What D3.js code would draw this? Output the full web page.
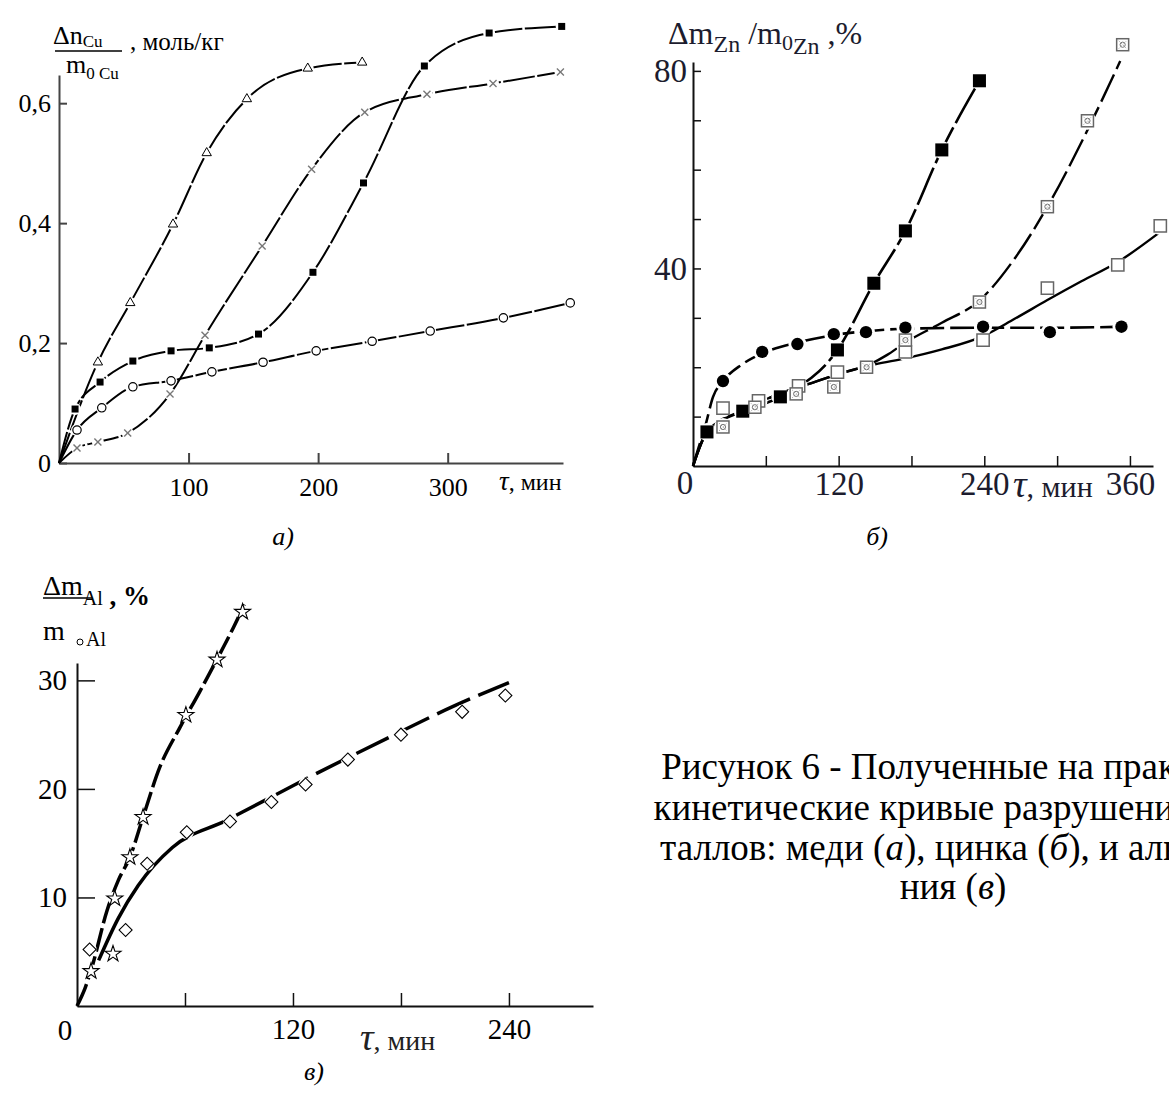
<!DOCTYPE html>
<html>
<head>
<meta charset="utf-8">
<script src="https://cdn.jsdelivr.net/npm/d3@7"></script>
<style>
body { margin: 0; background: #fff; }
svg { display: block; }
text { font-family: "Liberation Serif", "Times New Roman", serif; }
</style>
</head>
<body>
<div id="chart"></div>
<script>
// а) медь, [мин, моль/кг]
var cuTriangle = [[30,0.168],[55,0.267],[88,0.398],[114,0.517],[145,0.607],[192,0.658],[234,0.668]];
var cuSquare = [[12.4,0.09],[31.7,0.135],[57,0.17],[86.5,0.187],[116,0.192],[154,0.215],[196,0.318],[235,0.467],[282,0.662],[332,0.717],[388,0.728]];
var cuCircle = [[13.9,0.055],[33,0.092],[57,0.127],[86.5,0.137],[118,0.152],[157.5,0.168],[198.5,0.187],[241.7,0.203],[286.5,0.22],[343,0.242],[394.6,0.267]];
var cuCross = [[13.9,0.025],[30,0.035],[53,0.05],[85.7,0.115],[112.7,0.213],[156.8,0.362],[195,0.49],[236,0.585],[284,0.615],[335,0.633],[387,0.652]];
var cuXTicks = [100, 200, 300];
var cuYTicks = [0, 0.2, 0.4, 0.6];

// б) цинк, [мин, %]
var znSquare = [[11.5,6.9],[41,11.1],[72,14],[119,23.5],[149,37],[175,47.6],[205,64],[236,78]];
var znCircle = [[24.7,17.2],[57,23.1],[86,24.7],[116,26.7],[142.5,27.1],[175,28],[239,28.2],[294,27.1],[353,28.2]];
var znOpen = [[24.7,11.7],[54,13.2],[87,16.2],[119,19],[175,23.1],[239,25.5],[292,36],[350,40.7],[385,48.6]];
var znCrossed = [[24.7,7.9],[51,11.9],[85,14.6],[116,16],[143,20],[175,25.5],[236,33.2],[292,52.5],[325,69.9],[354,85.3]];
var znCircleFit = [[0,0],[5.8,4.7],[9.9,7.9],[16.5,14],[24.7,17.2],[40,20.5],[57,22.8],[86,25],[116,26.5],[143,27.3],[175,27.8],[239,28],[300,28],[353,28.2]];
var znOpenFit = [[0,0],[12,7],[41,11.3],[70,14.5],[100,17],[125,19],[150,20.6],[175,21.8],[205,23.6],[239,26.3],[265,29.8],[292,33.6],[320,37.4],[350,41.3],[385,47.4]];
var znCrossedFit = [[0,0],[12,7],[41,11.3],[70,14.5],[100,17],[125,19],[143,20.3],[160,22.5],[175,25],[205,29],[236,33.5],[265,42],[292,52.5],[325,68],[352,82]];
var znXTicks = [60, 120, 180, 240, 300, 360];
var znXLabels = [120, 240, 360];
var znYTicks = [10, 20, 30, 40, 50, 60, 70, 80];
var znYLabels = [40, 80];

// в) алюминий, [мин, %]
var alStar = [[7.8,3.2],[20,4.8],[21,9.9],[29.4,13.7],[36.7,17.4],[60.5,26.8],[77.8,31.9],[92,36.3]];
var alDiamond = [[7,5.2],[27,7],[39,13.1],[61,16],[85,17],[108,18.8],[127,20.4],[150.5,22.7],[180,25],[214,27.1],[238,28.6]];
var alStarFit = [[0,0],[4.6,1.7],[8,3.4],[16.7,8.8],[23,11.6],[29.4,13.7],[36.7,17.4],[46,22],[57,25.6],[68,28.9],[78,32],[87,34.9],[93,37]];
var alDiamondFit = [[12,4.2],[23,8.1],[34,11.1],[53,14.6],[83,17.1],[134,21.5],[174,24.8],[209,27.6],[240,29.8]];
var alXTicks = [60, 120, 180, 240];
var alXLabels = [120, 240];
var alYTicks = [10, 20, 30];

var captionLines = [
  [["Рисунок 6 - Полученные на практике", false]],
  [["кинетические кривые разрушения ме-", false]],
  [["таллов: меди (", false], ["а", true], ["), цинка (", false], ["б", true], ["), и алюми-", false]],
  [["ния (", false], ["в", true], [")", false]]
];

var svg = d3.select("#chart").append("svg")
   .attr("width", 1169)
   .attr("height", 1095);

function curve(g, x, y, pts, dash, w) {
   g.append("path")
      .datum(pts)
      .attr("fill", "none")
      .attr("stroke", "#000")
      .attr("stroke-width", w)
      .attr("stroke-dasharray", dash)
      .attr("d", d3.line()
         .x(function(d) { return x(d[0]); })
         .y(function(d) { return y(d[1]); })
         .curve(d3.curveMonotoneX));
}

function halos(g, x, y, pts, r) {
   g.selectAll(null).data(pts).enter().append("circle")
      .attr("cx", function(d) { return x(d[0]); })
      .attr("cy", function(d) { return y(d[1]); })
      .attr("r", r)
      .attr("fill", "#fff");
}

function marks(g, x, y, pts, type, size, fill, stroke, sw, rot) {
   g.selectAll(null).data(pts).enter().append("path")
      .attr("transform", function(d) {
         return "translate(" + x(d[0]) + "," + y(d[1]) + ")" + (rot ? " rotate(" + rot + ")" : "");
      })
      .attr("d", d3.symbol().type(type).size(size))
      .attr("fill", fill)
      .attr("stroke", stroke)
      .attr("stroke-width", sw);
}

function crosses(g, x, y, pts, s, color) {
   var c = g.selectAll(null).data(pts).enter().append("g")
      .attr("transform", function(d) { return "translate(" + x(d[0]) + "," + y(d[1]) + ")"; })
      .attr("stroke", color)
      .attr("stroke-width", 1.4);
   c.append("line").attr("x1", -s).attr("y1", -s).attr("x2", s).attr("y2", s);
   c.append("line").attr("x1", -s).attr("y1", s).attr("x2", s).attr("y2", -s);
}

function crossedSquares(g, x, y, pts) {
   var c = g.selectAll(null).data(pts).enter().append("g")
      .attr("transform", function(d) { return "translate(" + x(d[0]) + "," + y(d[1]) + ")"; });
   c.append("rect").attr("x", -6).attr("y", -6).attr("width", 12).attr("height", 12)
      .attr("fill", "#fff").attr("stroke", "#666").attr("stroke-width", 1.5);
   c.append("line").attr("x1", -4).attr("y1", -4).attr("x2", 4).attr("y2", 4)
      .attr("stroke", "#999").attr("stroke-width", 0.8).attr("stroke-dasharray", "1.5,1.5");
   c.append("line").attr("x1", -4).attr("y1", 4).attr("x2", 4).attr("y2", -4)
      .attr("stroke", "#999").attr("stroke-width", 0.8).attr("stroke-dasharray", "1.5,1.5");
   c.append("circle").attr("r", 2.6).attr("fill", "none").attr("stroke", "#666").attr("stroke-width", 0.9);
}

function comma(d) {
   return d === 0 ? "0" : d3.format(".1f")(d).replace(".", ",");
}

// ---------- а) ----------
var xa = d3.scaleLinear().domain([0, 389]).range([59, 563]);
var ya = d3.scaleLinear().domain([0, 0.647]).range([463, 75]);
var ga = svg.append("g");

ga.append("g")
   .attr("transform", "translate(0,463)")
   .attr("color", "#444")
   .call(d3.axisBottom(xa).tickValues(cuXTicks).tickSizeInner(-10).tickSizeOuter(0))
   .call(function(g) {
      g.select(".domain").attr("stroke-width", 2);
      g.selectAll("line").attr("stroke-width", 2);
      g.selectAll("text").attr("y", 33).attr("dy", null).attr("font-size", 26).attr("fill", "#000");
   });
ga.append("g")
   .attr("transform", "translate(59,0)")
   .attr("color", "#444")
   .call(d3.axisLeft(ya).tickValues(cuYTicks).tickFormat(comma).tickSizeInner(-8).tickSizeOuter(0).tickPadding(8))
   .call(function(g) {
      g.select(".domain").attr("stroke-width", 2);
      g.selectAll("line").attr("stroke-width", 2);
      g.selectAll("text").attr("font-size", 26).attr("fill", "#000");
   });

[cuTriangle, cuSquare, cuCircle, cuCross].forEach(function(s) {
   curve(ga, xa, ya, [[0, 0]].concat(s), "32,2.5", 2);
});
[cuTriangle, cuSquare, cuCircle, cuCross].forEach(function(s) {
   halos(ga, xa, ya, s, 6);
});
marks(ga, xa, ya, cuTriangle, d3.symbolTriangle, 38, "#fff", "#000", 1);
marks(ga, xa, ya, cuSquare, d3.symbolSquare, 49, "#000", "none", 0);
marks(ga, xa, ya, cuCircle, d3.symbolCircle, 55, "#fff", "#000", 1.2);
crosses(ga, xa, ya, cuCross, 3.5, "#777");

var la = ga.append("text").attr("x", 53).attr("y", 44).attr("font-size", 26);
la.append("tspan").text("Δn");
la.append("tspan").attr("font-size", 17).attr("dy", 3).text("Cu");
ga.append("line").attr("x1", 55).attr("x2", 122).attr("y1", 51).attr("y2", 51)
   .attr("stroke", "#000").attr("stroke-width", 1.5);
var lb = ga.append("text").attr("x", 66).attr("y", 73).attr("font-size", 26);
lb.append("tspan").text("m");
lb.append("tspan").attr("font-size", 17).attr("dy", 6).text("0 Cu");
ga.append("text").attr("x", 130).attr("y", 50).attr("font-size", 25).text(", моль/кг");
var ta = ga.append("text").attr("x", 499).attr("y", 490).attr("font-size", 24);
ta.append("tspan").attr("font-style", "italic").attr("font-size", 27).text("τ");
ta.append("tspan").text(", мин");
ga.append("text").attr("x", 283).attr("y", 545).attr("font-size", 26)
   .attr("font-style", "italic").attr("text-anchor", "middle").text("а)");

// ---------- б) ----------
var xb = d3.scaleLinear().domain([0, 379]).range([693, 1153]);
var yb = d3.scaleLinear().domain([0, 81.8]).range([466, 62]);
var gb = svg.append("g");

gb.append("g")
   .attr("transform", "translate(0,466)")
   .attr("color", "#111")
   .call(d3.axisBottom(xb).tickValues(znXTicks).tickSizeInner(-10).tickSizeOuter(0)
      .tickFormat(function(d) { return znXLabels.indexOf(d) >= 0 ? d : ""; }))
   .call(function(g) {
      g.select(".domain").attr("stroke-width", 2);
      g.selectAll("line").attr("stroke-width", 1.5);
      g.selectAll("text").attr("y", 29).attr("dy", null).attr("font-size", 33).attr("fill", "#1c1c2e");
   });
gb.append("g")
   .attr("transform", "translate(693,0)")
   .attr("color", "#111")
   .call(d3.axisLeft(yb).tickValues(znYTicks).tickSizeInner(-8).tickSizeOuter(0).tickPadding(6)
      .tickFormat(function(d) { return znYLabels.indexOf(d) >= 0 ? d : ""; }))
   .call(function(g) {
      g.select(".domain").attr("stroke-width", 2);
      g.selectAll("line").attr("stroke-width", 1.5);
      g.selectAll("text").attr("font-size", 33).attr("fill", "#1c1c2e");
   });
gb.append("text").attr("x", 685).attr("y", 494).attr("font-size", 33)
   .attr("text-anchor", "middle").attr("fill", "#1c1c2e").text("0");

curve(gb, xb, yb, znCircleFit, "24,6", 2.6);
curve(gb, xb, yb, [[0, 0]].concat(znSquare), "40,5", 2.6);
curve(gb, xb, yb, znOpenFit, null, 2.4);
curve(gb, xb, yb, znCrossedFit, "30,6", 2.4);
[znSquare, znCircle, znOpen, znCrossed].forEach(function(s) {
   halos(gb, xb, yb, s, 9);
});
marks(gb, xb, yb, znSquare, d3.symbolSquare, 170, "#000", "none", 0);
marks(gb, xb, yb, znCircle, d3.symbolCircle, 120, "#000", "none", 0);
marks(gb, xb, yb, znOpen, d3.symbolSquare, 150, "#fff", "#666", 1.5);
crossedSquares(gb, xb, yb, znCrossed);

var lz = gb.append("text").attr("x", 668).attr("y", 44).attr("font-size", 32).attr("fill", "#1c1c2e");
lz.append("tspan").text("Δm");
lz.append("tspan").attr("font-size", 24).attr("dy", 8).text("Zn");
lz.append("tspan").attr("dy", -8).text(" /m");
lz.append("tspan").attr("font-size", 22).attr("dy", 6).text("0");
lz.append("tspan").attr("font-size", 24).attr("dy", 4).text("Zn");
lz.append("tspan").attr("dy", -10).text(" ,%");
var tb = gb.append("text").attr("x", 1013).attr("y", 497).attr("font-size", 30).attr("fill", "#1c1c2e");
tb.append("tspan").attr("font-style", "italic").attr("font-size", 38).text("τ");
tb.append("tspan").text(", мин");
gb.append("text").attr("x", 877).attr("y", 545).attr("font-size", 26)
   .attr("font-style", "italic").attr("text-anchor", "middle").text("б)");

// ---------- в) ----------
var xc = d3.scaleLinear().domain([0, 286.7]).range([77, 593]);
var yc = d3.scaleLinear().domain([0, 31.6]).range([1006, 663]);
var gc = svg.append("g");

gc.append("g")
   .attr("transform", "translate(0,1006)")
   .attr("color", "#111")
   .call(d3.axisBottom(xc).tickValues(alXTicks).tickSizeInner(-13).tickSizeOuter(0)
      .tickFormat(function(d) { return alXLabels.indexOf(d) >= 0 ? d : ""; }))
   .call(function(g) {
      g.select(".domain").attr("stroke-width", 2);
      g.selectAll("line").attr("stroke-width", 1.5);
      g.selectAll("text").attr("y", 33).attr("dy", null).attr("font-size", 29).attr("fill", "#000");
   });
gc.append("g")
   .attr("transform", "translate(77,0)")
   .attr("color", "#111")
   .call(d3.axisLeft(yc).tickValues(alYTicks).tickSizeInner(-18).tickSizeOuter(0).tickPadding(10))
   .call(function(g) {
      g.select(".domain").attr("stroke-width", 2);
      g.selectAll("line").attr("stroke-width", 1.5);
      g.selectAll("text").attr("font-size", 29).attr("fill", "#000");
   });
gc.append("text").attr("x", 65).attr("y", 1040).attr("font-size", 29)
   .attr("text-anchor", "middle").text("0");

curve(gc, xc, yc, alStarFit, "24,5", 3.5);
// нижняя часть сплошная, дальше штрихи
curve(gc, xc, yc, alDiamondFit, "200,8,36,9,36,9,36,9,36,9,36,9,36,9,36,9,36,9,36,9,36,9", 3.5);
halos(gc, xc, yc, alStar, 7);
halos(gc, xc, yc, alDiamond, 7);
marks(gc, xc, yc, alStar, d3.symbolStar, 80, "#fff", "#000", 1.1);
marks(gc, xc, yc, alDiamond, d3.symbolSquare, 85, "#fff", "#000", 1.1, 45);

var lc = gc.append("text").attr("x", 43).attr("y", 595).attr("font-size", 28);
lc.append("tspan").text("Δm");
lc.append("tspan").attr("font-size", 20).attr("dy", 10).text("Al");
lc.append("tspan").attr("font-size", 27).attr("font-weight", "bold").text(" , %");
gc.append("line").attr("x1", 43).attr("x2", 92).attr("y1", 598).attr("y2", 598)
   .attr("stroke", "#000").attr("stroke-width", 1.5);
gc.append("text").attr("x", 43).attr("y", 640).attr("font-size", 28).text("m");
gc.append("text").attr("x", 86).attr("y", 646).attr("font-size", 20).text("Al");
gc.append("circle").attr("cx", 80).attr("cy", 642).attr("r", 3)
   .attr("fill", "none").attr("stroke", "#000").attr("stroke-width", 1);
var tc = gc.append("text").attr("x", 360).attr("y", 1050).attr("font-size", 28).attr("fill", "#222");
tc.append("tspan").attr("font-style", "italic").attr("font-size", 38).text("τ");
tc.append("tspan").text(", мин");
gc.append("text").attr("x", 314).attr("y", 1080).attr("font-size", 26)
   .attr("font-style", "italic").attr("text-anchor", "middle").text("в)");

// ---------- подпись (центрирована, справа обрезана краем) ----------
var capY = [779, 820, 860, 899];
captionLines.forEach(function(line, i) {
   var t = svg.append("text").attr("x", 953).attr("y", capY[i])
      .attr("font-size", 37).attr("text-anchor", "middle");
   line.forEach(function(part) {
      t.append("tspan").attr("font-style", part[1] ? "italic" : null).text(part[0]);
   });
});
</script>
</body>
</html>
